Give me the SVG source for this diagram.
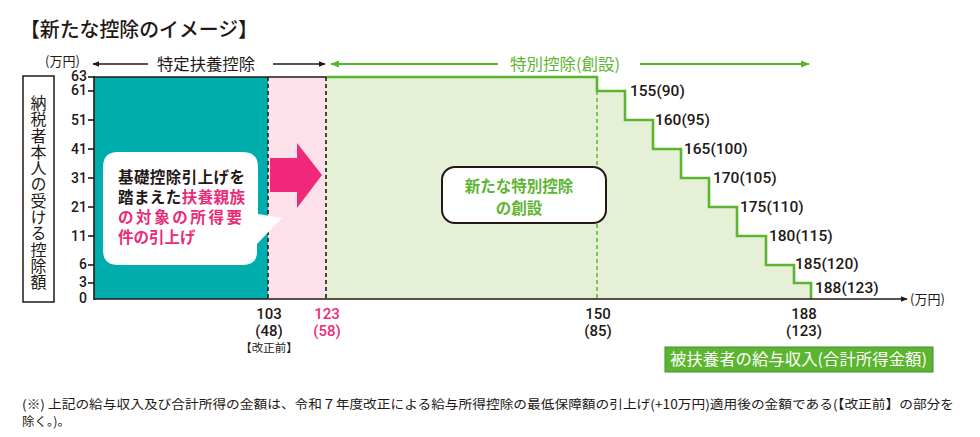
<svg xmlns="http://www.w3.org/2000/svg" width="980" height="437" viewBox="0 0 980 437">
<style>
text{font-family:"Noto Sans CJK JP","Noto Sans",sans-serif;fill:#231815}
.t{font-size:20px;font-weight:500}
.u{font-size:13px}
.hd{font-size:16px}
.g{fill:#5cb531}
.p{fill:#eb2a78}
.n{font-family:Roboto,"Liberation Sans",sans-serif;font-weight:500}
.yl{font-size:14px;text-anchor:end;dominant-baseline:central}
.sl{font-size:15.5px}
.xl{font-size:15px;text-anchor:middle}
.cb{font-size:15.5px;font-weight:700}
.ax{stroke:#231815;stroke-width:1.6;fill:none}
.dash{stroke:#231815;stroke-width:1.6;stroke-dasharray:4 3}
.step{stroke:#5cb531;stroke-width:2.6;fill:none}
</style>
<defs>
<marker id="ak" viewBox="0 0 10 10" refX="9" refY="5" markerWidth="7" markerHeight="7" orient="auto-start-reverse" markerUnits="userSpaceOnUse"><path d="M0,1 L10,5 L0,9 Z" fill="#231815"/></marker>
<marker id="ag" viewBox="0 0 10 10" refX="9" refY="5" markerWidth="9" markerHeight="9" orient="auto-start-reverse" markerUnits="userSpaceOnUse"><path d="M0,1 L10,5 L0,9 Z" fill="#5cb531"/></marker>
</defs>

<g id="title"><text class="t" x="20" y="37" textLength="238" lengthAdjust="spacingAndGlyphs">【新たな控除のイメージ】</text></g>

<g id="regions">
<rect x="94" y="77" width="174" height="222" fill="#00adad"/>
<rect x="268" y="77" width="58" height="222" fill="#fde1ea"/>
<polygon points="326,77 597,77 597,91 625,91 625,120 653,120 653,149 681,149 681,178 709,178 709,207 737,207 737,236 766,236 766,265 794,265 794,283 811,283 811,299 326,299" fill="#e6f0d6"/>
</g>

<g id="connectors">
<line x1="94" y1="77" x2="326" y2="77" class="ax"/>
<polyline class="step" points="326,77 597,77 597,91 625,91 625,120 653,120 653,149 681,149 681,178 709,178 709,207 737,207 737,236 766,236 766,265 794,265 794,283 811,283 811,299"/>
<line x1="268" y1="77" x2="268" y2="299" class="dash"/>
<line x1="326" y1="77" x2="326" y2="299" class="dash"/>
<line x1="597" y1="91" x2="597" y2="299" stroke="#5cb531" stroke-width="1.5" stroke-dasharray="4 3"/>
<line x1="94" y1="76" x2="94" y2="300" class="ax"/>
<line x1="94" y1="299" x2="907" y2="299" class="ax" marker-end="url(#ak)"/>
<g class="ax">
<line x1="88" y1="77" x2="94" y2="77"/><line x1="88" y1="91" x2="94" y2="91"/><line x1="88" y1="120" x2="94" y2="120"/><line x1="88" y1="149" x2="94" y2="149"/><line x1="88" y1="178" x2="94" y2="178"/><line x1="88" y1="207" x2="94" y2="207"/><line x1="88" y1="236" x2="94" y2="236"/><line x1="88" y1="265" x2="94" y2="265"/><line x1="88" y1="283" x2="94" y2="283"/>
</g>
<line x1="148" y1="64" x2="93" y2="64" class="ax" marker-end="url(#ak)"/>
<line x1="273" y1="64" x2="325" y2="64" class="ax" marker-end="url(#ak)"/>
<line x1="498" y1="64" x2="331" y2="64" stroke="#5cb531" stroke-width="1.8" marker-end="url(#ag)"/>
<line x1="640" y1="64" x2="809" y2="64" stroke="#5cb531" stroke-width="1.8" marker-end="url(#ag)"/>
<polygon id="pinkArrow" points="270,158 297,158 297,143 322,175 297,208 297,192 270,192" fill="#f0287a"/>
</g>

<g id="topLabels">
<text class="u" x="45" y="66">(万円)</text>
<text class="hd" x="157" y="70" textLength="98" lengthAdjust="spacingAndGlyphs">特定扶養控除</text>
<text class="hd g" x="510" y="70" textLength="110" lengthAdjust="spacingAndGlyphs">特別控除(創設)</text>
</g>

<g id="yAxisTitle">
<rect x="23" y="76" width="31" height="226" fill="#fff" stroke="#231815" stroke-width="1.5"/>
<text x="38.5" y="95" font-size="16" style="writing-mode:vertical-rl;glyph-orientation-vertical:0" text-anchor="start" textLength="195" lengthAdjust="spacing">納税者本人の受ける控除額</text>
</g>

<g id="yLabels">
<text class="yl n" x="87" y="76">63</text>
<text class="yl n" x="87" y="90">61</text>
<text class="yl n" x="87" y="120">51</text>
<text class="yl n" x="87" y="149">41</text>
<text class="yl n" x="87" y="178">31</text>
<text class="yl n" x="87" y="207">21</text>
<text class="yl n" x="87" y="236">11</text>
<text class="yl n" x="87" y="264">6</text>
<text class="yl n" x="87" y="282">3</text>
<text class="yl n" x="87" y="298">0</text>
</g>

<g id="stepLabels">
<text class="sl n" x="630" y="96">155(90)</text>
<text class="sl n" x="655" y="125">160(95)</text>
<text class="sl n" x="684" y="154">165(100)</text>
<text class="sl n" x="713" y="183">170(105)</text>
<text class="sl n" x="740" y="212">175(110)</text>
<text class="sl n" x="769" y="241">180(115)</text>
<text class="sl n" x="795" y="269">185(120)</text>
<text class="sl n" x="815" y="293">188(123)</text>
</g>

<g id="callout">
<path d="M118,152 H243 Q258,152 258,167 V214 L282,218 L257,244 V250 Q258,265 243,265 H118 Q103,265 103,250 V167 Q103,152 118,152 Z" fill="#fff"/>
<text class="cb" x="118" y="183" textLength="127" lengthAdjust="spacing">基礎控除引上げを</text>
<text class="cb" x="118" y="203" textLength="127" lengthAdjust="spacing">踏まえた<tspan class="p">扶養親族</tspan></text>
<text class="cb p" x="118" y="223" textLength="124" lengthAdjust="spacing">の対象の所得要</text>
<text class="cb p" x="118" y="243">件の引上げ</text>
</g>

<g id="newDeduction">
<rect x="442" y="167" width="164" height="56" rx="13" fill="#fff" stroke="#231815" stroke-width="2"/>
<text class="cb g" x="519" y="192" text-anchor="middle" font-size="17">新たな特別控除</text>
<text class="cb g" x="519" y="214" text-anchor="middle" font-size="17">の創設</text>
</g>

<g id="xLabels">
<text class="xl n" x="269" y="319">103</text>
<text class="xl n" x="269" y="336">(48)</text>
<text x="269" y="352" font-size="11.5" text-anchor="middle">【改正前】</text>
<text class="xl n p" x="327" y="319">123</text>
<text class="xl n p" x="327" y="336">(58)</text>
<text class="xl n" x="598" y="319">150</text>
<text class="xl n" x="598" y="336">(85)</text>
<text class="xl n" x="804" y="319">188</text>
<text class="xl n" x="804" y="336">(123)</text>
<text class="u" x="910" y="304">(万円)</text>
</g>

<g id="xAxisTitle">
<rect x="665" y="347" width="268" height="25" fill="#5cb531" stroke="#3f8f25" stroke-width="1"/>
<text x="670" y="365" font-size="16" style="fill:#fff" textLength="257" lengthAdjust="spacingAndGlyphs">被扶養者の給与収入(合計所得金額)</text>
</g>

<g id="footnote">
<text x="22" y="409" font-size="12.5" textLength="932" lengthAdjust="spacingAndGlyphs">(※) 上記の給与収入及び合計所得の金額は、令和７年度改正による給与所得控除の最低保障額の引上げ(+10万円)適用後の金額である(【改正前】の部分を</text>
<text x="22" y="426" font-size="12.5">除く。)。</text>
</g>
</svg>
